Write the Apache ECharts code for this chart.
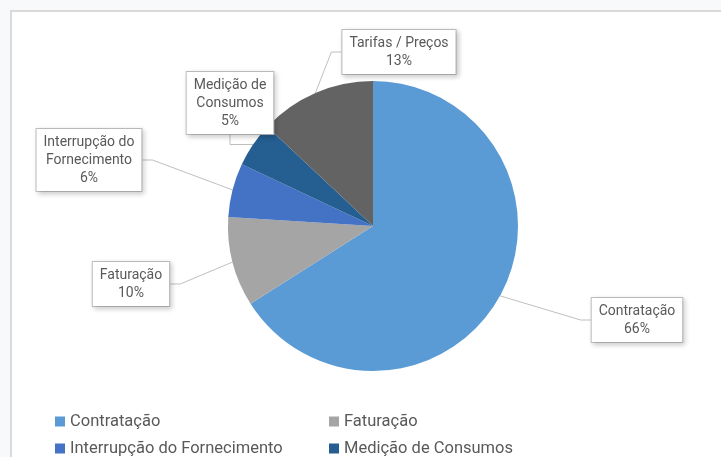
<!DOCTYPE html>
<html>
<head>
<meta charset="utf-8">
<script src="https://cdn.jsdelivr.net/npm/echarts@6/dist/echarts.min.js"></script>
<style>
  html, body { margin: 0; padding: 0; background: #f8f9fb; }
  #pie { width: 721px; height: 457px; }
</style>
</head>
<body>
<div id="pie"></div>
<script>
// dados do gráfico
var categorias = ["Contratação", "Faturação", "Interrupção do Fornecimento", "Medição de Consumos", "Tarifas / Preços"];
var rotulos = ["Contratação", "Faturação", "Interrupção do\nFornecimento", "Medição de\nConsumos", "Tarifas / Preços"];
var percentagens = [66, 10, 6, 5, 13];
var cores = ["#5b9bd5", "#a5a5a5", "#4472c4", "#255e91", "#636363"];

// posição (centro) de cada caixa de rótulo
var posRotulos = [[637, 320], [131, 284], [89, 160], [230, 103], [399, 52]];

var myChart = echarts.init(document.getElementById("pie"));

var dados = [];
for (var i = 0; i < categorias.length; i++) {
  dados.push({
    name: categorias[i],
    value: percentagens[i],
    itemStyle: { color: cores[i] }
  });
}

var legendaTexto = { fontFamily: "Roboto", fontSize: 16.5, color: "#595959" };

var option = {
  backgroundColor: "#f8f9fb",
  animation: false,
  graphic: [
    {
      type: "rect",
      z: -10,
      shape: { x: 11, y: 11, width: 800, height: 600 },
      style: { fill: "#ffffff", stroke: "#dadada", lineWidth: 2 }
    }
  ],
  legend: [
    {
      orient: "vertical",
      left: 55,
      top: 413,
      padding: 0,
      icon: "rect",
      itemWidth: 10,
      itemHeight: 10,
      itemGap: 10,
      // a terceira linha (Tarifas / Preços) fica fora da imagem
      data: [categorias[0], categorias[2]],
      textStyle: legendaTexto
    },
    {
      orient: "vertical",
      left: 329,
      top: 413,
      padding: 0,
      icon: "rect",
      itemWidth: 10,
      itemHeight: 10,
      itemGap: 10,
      data: [categorias[1], categorias[3]],
      textStyle: legendaTexto
    }
  ],
  series: [
    {
      type: "pie",
      center: [373, 226],
      radius: [0, 145],
      startAngle: 90,
      clockwise: true,
      data: dados,
      label: {
        show: true,
        formatter: function (p) {
          return rotulos[p.dataIndex] + "\n" + p.value + "%";
        },
        fontFamily: "Roboto",
        fontSize: 14,
        lineHeight: 18,
        color: "#595959",
        align: "center",
        backgroundColor: "#ffffff",
        borderColor: "#bfbfbf",
        borderWidth: 1,
        padding: [4, 7, 4, 7],
        shadowColor: "rgba(0,0,0,0.18)",
        shadowBlur: 5,
        shadowOffsetX: 2,
        shadowOffsetY: 2
      },
      labelLine: {
        show: true,
        length: 10,
        length2: 10,
        lineStyle: { color: "#bfbfbf", width: 1 }
      },
      labelLayout: function (params) {
        var p = posRotulos[params.dataIndex];
        return {
          x: p[0],
          y: p[1],
          align: "center",
          verticalAlign: "middle",
          moveOverlap: null,
          hideOverlap: false
        };
      },
      emphasis: { disabled: true }
    }
  ]
};

myChart.setOption(option);
</script>
</body>
</html>
